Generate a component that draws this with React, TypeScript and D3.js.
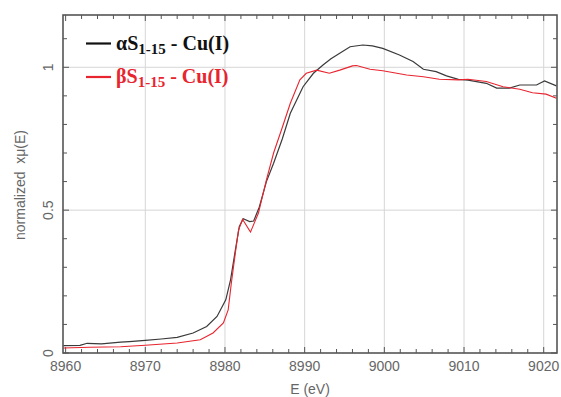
import React from "react";
import * as d3 from "d3";

const alphaE = [8959.7, 8961.8, 8962.7, 8964.5, 8966.9, 8968, 8970, 8972, 8974, 8976, 8977.7, 8979, 8980.1, 8980.7, 8981.3, 8981.8, 8982.3, 8983.1, 8983.6, 8984.3, 8985.2, 8986.1, 8987.2, 8988.2, 8989.8, 8991.1, 8992.3, 8993.3, 8994.4, 8995.7, 8997.3, 8998.5, 8999.8, 9001.9, 9003.6, 9004.9, 9006.5, 9007.8, 9009.3, 9010.5, 9012.8, 9014.1, 9015.7, 9017, 9019.1, 9020.1, 9021.6];
const alphaMu = [0.026, 0.027, 0.034, 0.032, 0.038, 0.040, 0.044, 0.049, 0.055, 0.070, 0.093, 0.128, 0.186, 0.256, 0.36, 0.443, 0.470, 0.460, 0.462, 0.51, 0.60, 0.664, 0.75, 0.839, 0.932, 0.979, 1.008, 1.03, 1.049, 1.072, 1.078, 1.075, 1.066, 1.043, 1.020, 0.993, 0.985, 0.970, 0.958, 0.955, 0.944, 0.927, 0.927, 0.938, 0.938, 0.952, 0.935];

const betaE = [8959.7, 8963, 8966.9, 8970, 8974, 8976.9, 8978.5, 8979.8, 8980.4, 8980.8, 8981.3, 8981.7, 8982.2, 8983.2, 8984.2, 8985.2, 8986.1, 8987.2, 8988.2, 8989.4, 8990.2, 8991.5, 8993.1, 8994.4, 8996, 8996.5, 8998.2, 8999.8, 9002.8, 9004.9, 9006.9, 9009.3, 9010.5, 9012.8, 9014.9, 9017, 9018.6, 9020.3, 9021.6];
const betaMu = [0.0175, 0.020, 0.022, 0.027, 0.035, 0.0465, 0.070, 0.105, 0.151, 0.245, 0.35, 0.43, 0.468, 0.423, 0.49, 0.606, 0.70, 0.79, 0.874, 0.956, 0.979, 0.99, 0.979, 0.99, 1.005, 1.006, 0.993, 0.988, 0.973, 0.967, 0.958, 0.956, 0.958, 0.950, 0.932, 0.923, 0.911, 0.906, 0.892];

const xTickLabels = [8960, 8970, 8980, 8990, 9000, 9010, 9020];
const yTickLabels = [0, 0.5, 1];

const W = 561, H = 397;
const L = 63, R = 557, T = 15, B = 353;

export default function App() {
  const x = d3.scaleLinear().domain([8959.67, 9021.67]).range([L, R]);
  const y = d3.scaleLinear().domain([0, 1.183]).range([B, T]);
  const line = d3.line<[number, number]>().x(d => x(d[0])).y(d => y(d[1]));
  const alpha = alphaE.map((e, i) => [e, alphaMu[i]] as [number, number]);
  const beta = betaE.map((e, i) => [e, betaMu[i]] as [number, number]);
  const minorX = d3.range(8960, 9022, 2);
  const minorY = d3.range(0, 1.181, 0.1);
  const axisCol = "#555";
  const textCol = "#666";
  return (
    <svg width={W} height={H} style={{ position: "absolute", left: 0, top: 0, background: "#fff" }}>
      {/* grid */}
      {xTickLabels.filter(v => v !== 8960).map(v => (
        <line key={"gx" + v} x1={x(v)} x2={x(v)} y1={T} y2={B} stroke="#d6d6d6" strokeWidth={1} />
      ))}
      {yTickLabels.filter(v => v !== 0).map(v => (
        <line key={"gy" + v} x1={L} x2={R} y1={y(v)} y2={y(v)} stroke="#d6d6d6" strokeWidth={1} />
      ))}
      {/* ticks */}
      {minorX.map(v => {
        const major = v % 10 === 0;
        const len = major ? 6 : 4;
        return (
          <g key={"tx" + v}>
            <line x1={x(v)} x2={x(v)} y1={B} y2={B - len} stroke={axisCol} strokeWidth={1} />
            <line x1={x(v)} x2={x(v)} y1={T} y2={T + len} stroke={axisCol} strokeWidth={1} />
          </g>
        );
      })}
      {minorY.map((v, i) => {
        const major = i % 5 === 0;
        const len = major ? 6 : 4;
        return (
          <g key={"ty" + i}>
            <line x1={L} x2={L + len} y1={y(v)} y2={y(v)} stroke={axisCol} strokeWidth={1} />
            <line x1={R} x2={R - len} y1={y(v)} y2={y(v)} stroke={axisCol} strokeWidth={1} />
          </g>
        );
      })}
      {/* data */}
      <path d={line(alpha) || ""} fill="none" stroke="#3a3a3a" strokeWidth={1.2} />
      <path d={line(beta) || ""} fill="none" stroke="#e8242e" strokeWidth={1.1} />
      {/* frame */}
      <rect x={L} y={T} width={R - L} height={B - T} fill="none" stroke={axisCol} strokeWidth={1.6} />
      {/* tick labels */}
      {xTickLabels.map(v => (
        <text key={"lx" + v} x={x(v)} y={B + 18} textAnchor="middle" fontFamily="Liberation Sans, Arial, sans-serif" fontSize={14} fill={textCol}>{v}</text>
      ))}
      {yTickLabels.map(v => (
        <text key={"ly" + v} transform={`translate(${L - 10},${y(v)}) rotate(-90)`} textAnchor="middle" fontFamily="Liberation Sans, Arial, sans-serif" fontSize={14} fill={textCol}>{v}</text>
      ))}
      <text x={310} y={394} textAnchor="middle" fontFamily="Liberation Sans, Arial, sans-serif" fontSize={14} fill={textCol}>E (eV)</text>
      <text transform="translate(25,185) rotate(-90)" textAnchor="middle" fontFamily="Liberation Sans, Arial, sans-serif" fontSize={14} fill={textCol} style={{ whiteSpace: "pre" }}>{"normalized  xμ(E)"}</text>
      {/* legend */}
      <line x1={86} x2={111} y1={43.5} y2={43.5} stroke="#111" strokeWidth={2.2} />
      <text x={116} y={49.5} fontFamily="Liberation Serif, Times New Roman, serif" fontWeight="bold" fontSize={20} fill="#111">
        αS<tspan fontSize={15} dy={4}>1-15</tspan><tspan dy={-4}> - Cu(I)</tspan>
      </text>
      <line x1={86} x2={111} y1={77} y2={77} stroke="#e8242e" strokeWidth={2.2} />
      <text x={116} y={83} fontFamily="Liberation Serif, Times New Roman, serif" fontWeight="bold" fontSize={20} fill="#e8242e">
        βS<tspan fontSize={15} dy={4}>1-15</tspan><tspan dy={-4}> - Cu(I)</tspan>
      </text>
    </svg>
  );
}
